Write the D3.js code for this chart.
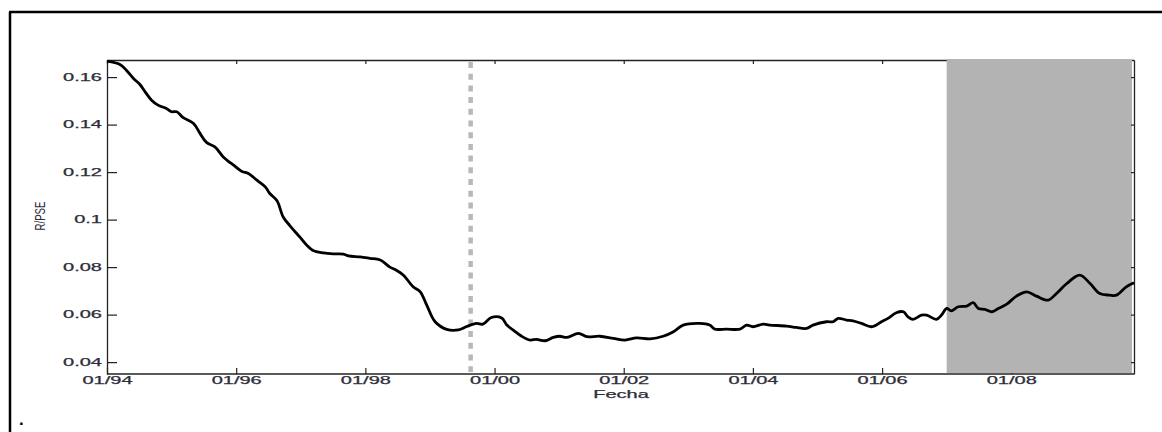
<!DOCTYPE html>
<html>
<head>
<meta charset="utf-8">
<script src="https://cdn.jsdelivr.net/npm/d3@7"></script>
<style>
  body { margin: 0; background: #fff; }
  svg { display: block; }
</style>
</head>
<body>
<script>
// R/PSE series (decimal years)
const years = [
  1994.00, 1994.20, 1994.30, 1994.41, 1994.51, 1994.59, 1994.69, 1994.79, 1994.92, 1995.00,
  1995.08, 1995.18, 1995.34, 1995.44, 1995.54, 1995.67, 1995.80, 1995.96, 1996.09, 1996.19,
  1996.32, 1996.45, 1996.52, 1996.63, 1996.73, 1996.83, 1996.99, 1997.09, 1997.19, 1997.35,
  1997.50, 1997.66, 1997.74, 1997.92, 1998.07, 1998.23, 1998.38, 1998.48, 1998.59, 1998.74,
  1998.85, 1998.95, 1999.08, 1999.26, 1999.44, 1999.57, 1999.72, 1999.82, 1999.95, 2000.11,
  2000.19, 2000.29, 2000.42, 2000.55, 2000.65, 2000.78, 2000.91, 2001.01, 2001.12, 2001.30,
  2001.43, 2001.63, 2001.84, 2002.02, 2002.20, 2002.41, 2002.61, 2002.77, 2002.92, 2003.18,
  2003.33, 2003.41, 2003.59, 2003.80, 2003.90, 2004.00, 2004.16, 2004.26, 2004.52, 2004.67,
  2004.83, 2004.93, 2005.14, 2005.24, 2005.32, 2005.45, 2005.55, 2005.68, 2005.84, 2005.99,
  2006.09, 2006.22, 2006.33, 2006.40, 2006.48, 2006.61, 2006.69, 2006.84, 2006.92, 2007.00,
  2007.07, 2007.18, 2007.31, 2007.41, 2007.49, 2007.59, 2007.70, 2007.80, 2007.93, 2008.08,
  2008.24, 2008.39, 2008.57, 2008.70, 2008.86, 2009.06, 2009.22, 2009.37, 2009.52, 2009.63,
  2009.78, 2009.90
];
const rpse = [
  0.1667, 0.1653, 0.1629, 0.1594, 0.1569, 0.1538, 0.1503, 0.1482, 0.1468, 0.1454,
  0.1454, 0.1429, 0.1405, 0.1363, 0.1325, 0.1306, 0.1264, 0.1229, 0.1203, 0.1194,
  0.1166, 0.1138, 0.1110, 0.1080, 0.1010, 0.0975, 0.0925, 0.0893, 0.0870, 0.0860,
  0.0856, 0.0855, 0.0847, 0.0843, 0.0837, 0.0830, 0.0800, 0.0787, 0.0766, 0.0717,
  0.0696, 0.0640, 0.0570, 0.0538, 0.0536, 0.0550, 0.0563, 0.0560, 0.0588, 0.0586,
  0.0556, 0.0535, 0.0509, 0.0493, 0.0496, 0.0490, 0.0504, 0.0509, 0.0504, 0.0521,
  0.0507, 0.0509, 0.0500, 0.0493, 0.0502, 0.0498, 0.0509, 0.0528, 0.0556, 0.0563,
  0.0556, 0.0539, 0.0539, 0.0539, 0.0556, 0.0549, 0.0560, 0.0556, 0.0552, 0.0546,
  0.0542, 0.0556, 0.0570, 0.0570, 0.0584, 0.0577, 0.0574, 0.0563, 0.0549, 0.0570,
  0.0584, 0.0608, 0.0612, 0.0591, 0.0580, 0.0598, 0.0598, 0.0580, 0.0598, 0.0626,
  0.0616, 0.0633, 0.0636, 0.0650, 0.0626, 0.0622, 0.0612, 0.0626, 0.0644, 0.0678,
  0.0696, 0.0678, 0.0661, 0.0689, 0.0731, 0.0766, 0.0731, 0.0689, 0.0682, 0.0682,
  0.0717, 0.0734
];

const xTickYears = [1994, 1996, 1998, 2000, 2002, 2004, 2006, 2008];
const xTickLabels = ["01/94", "01/96", "01/98", "01/00", "01/02", "01/04", "01/06", "01/08"];
const yTicks = [0.04, 0.06, 0.08, 0.1, 0.12, 0.14, 0.16];
const yTickLabels = ["0.04", "0.06", "0.08", "0.1", "0.12", "0.14", "0.16"];
const breakYear = 1999.63;   // dashed vertical line
const shadeStart = 2007.0;   // grey out-of-sample band

const W = 1162, H = 432;
const box = { left: 107, right: 1134, top: 60, bottom: 374 };
const font = '"Liberation Sans", Arial, sans-serif';
const txtColor = "#2e2e3a";

const x = d3.scaleLinear().domain([1994, 2009.9]).range([box.left, box.right]);
const y = d3.scaleLinear().domain([0.035, 0.1672]).range([box.bottom, box.top]);

const svg = d3.select("body").append("svg")
  .attr("width", W)
  .attr("height", H);

// outer frame (only top and left edges show)
svg.append("line").attr("x1", 9).attr("x2", W).attr("y1", 12).attr("y2", 12)
  .attr("stroke", "#000").attr("stroke-width", 2.5);
svg.append("line").attr("x1", 10).attr("x2", 10).attr("y1", 12).attr("y2", H)
  .attr("stroke", "#000").attr("stroke-width", 2.5);

// stretch the text horizontally like the picture
function widen(sel, f) {
  sel.each(function() {
    const len = this.getComputedTextLength();
    if (len > 0) d3.select(this).attr("textLength", len * f).attr("lengthAdjust", "spacingAndGlyphs");
  });
}

function styleAxis(g) {
  g.attr("font-family", font).attr("font-size", 10).attr("color", "#222");
  g.select(".domain").attr("stroke-width", 1.3);
  g.selectAll(".tick line").attr("stroke-width", 1.2);
  g.selectAll(".tick text").attr("fill", txtColor)
    .attr("stroke", txtColor).attr("stroke-width", 0.25);
}

// top and bottom axes go under the grey band
svg.append("g")
  .attr("transform", `translate(0,${box.top})`)
  .call(d3.axisTop(x).tickValues(xTickYears).tickFormat("").tickSizeInner(-4).tickSizeOuter(0))
  .call(styleAxis);

const xAxis = svg.append("g")
  .attr("transform", `translate(0,${box.bottom})`)
  .call(d3.axisBottom(x).tickValues(xTickYears)
    .tickFormat((d, i) => xTickLabels[i])
    .tickSizeInner(-6).tickSizeOuter(0).tickPadding(3))
  .call(styleAxis);
xAxis.select(".domain").remove();

// grey band
svg.append("rect")
  .attr("x", x(shadeStart))
  .attr("y", box.top - 1)
  .attr("width", box.right - 2 - x(shadeStart))
  .attr("height", box.bottom - box.top)
  .attr("fill", "#b3b3b3");

// bottom edge on top of the band
svg.append("line")
  .attr("x1", box.left).attr("x2", box.right)
  .attr("y1", box.bottom).attr("y2", box.bottom)
  .attr("stroke", "#222").attr("stroke-width", 1.3);

const yAxis = svg.append("g")
  .attr("transform", `translate(${box.left},0)`)
  .call(d3.axisLeft(y).tickValues(yTicks)
    .tickFormat((d, i) => yTickLabels[i])
    .tickSizeInner(-10).tickSizeOuter(0).tickPadding(5))
  .call(styleAxis);

svg.append("g")
  .attr("transform", `translate(${box.right},0)`)
  .call(d3.axisRight(y).tickValues(yTicks).tickFormat("").tickSizeInner(-3).tickSizeOuter(0))
  .call(styleAxis);

widen(xAxis.selectAll(".tick text"), 2);
widen(yAxis.selectAll(".tick text"), 2);

// dashed break line
svg.append("line")
  .attr("x1", x(breakYear)).attr("x2", x(breakYear))
  .attr("y1", box.top + 2).attr("y2", box.bottom - 2)
  .attr("stroke", "#b8b8b8")
  .attr("stroke-width", 4.5)
  .attr("stroke-dasharray", "6,5.7");

// the series
const line = d3.line()
  .x((d, i) => x(years[i]))
  .y(d => y(d))
  .curve(d3.curveCatmullRom.alpha(0.5));

svg.append("path")
  .datum(rpse)
  .attr("fill", "none")
  .attr("stroke", "#000")
  .attr("stroke-width", 2.8)
  .attr("stroke-linejoin", "round")
  .attr("d", line);

// axis titles
const xt = svg.append("text")
  .attr("x", (box.left + box.right) / 2 + 0.5)
  .attr("y", 398)
  .attr("text-anchor", "middle")
  .attr("font-family", font)
  .attr("font-size", 10)
  .attr("fill", txtColor)
  .attr("stroke", txtColor)
  .attr("stroke-width", 0.25)
  .text("Fecha");
widen(xt, 2);

svg.append("text")
  .attr("transform", "translate(45,216) rotate(-90)")
  .attr("text-anchor", "middle")
  .attr("font-family", font)
  .attr("font-size", 15)
  .attr("fill", txtColor)
  .attr("textLength", 29)
  .attr("lengthAdjust", "spacingAndGlyphs")
  .text("R/PSE");

svg.append("text")
  .attr("x", 19).attr("y", 425)
  .attr("font-family", font)
  .attr("font-size", 17)
  .attr("font-weight", "bold")
  .attr("fill", "#000")
  .text(".");
</script>
</body>
</html>
